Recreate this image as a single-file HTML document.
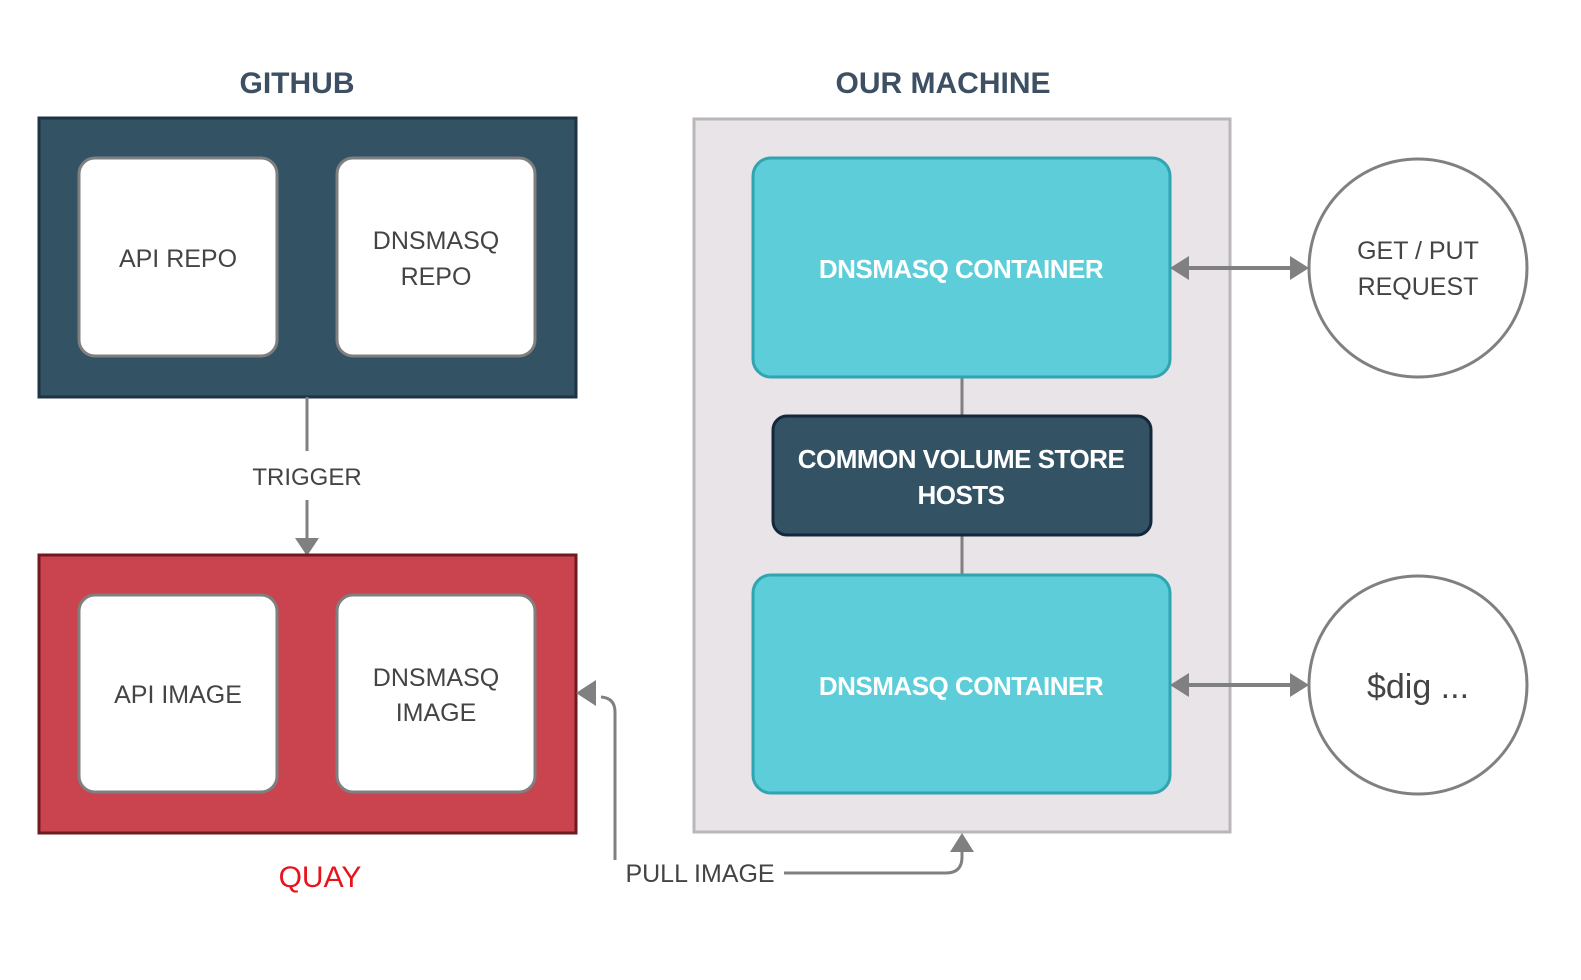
<!DOCTYPE html>
<html><head><meta charset="utf-8"><style>
html,body{margin:0;padding:0;background:#fff;width:1581px;height:980px;overflow:hidden;}
svg{display:block;position:absolute;left:0;top:0;}
text{font-family:"Liberation Sans","DejaVu Sans",sans-serif;}
</style></head><body>
<svg width="1581" height="980" viewBox="0 0 1581 980" xmlns="http://www.w3.org/2000/svg">
<rect width="1581" height="980" fill="#fff"/>
<text x="297" y="93" font-size="30" font-weight="bold" fill="#3d4f63" text-anchor="middle">GITHUB</text>
<text x="943" y="93" font-size="30" font-weight="bold" fill="#3d4f63" text-anchor="middle">OUR MACHINE</text>
<text x="320" y="887" font-size="30" fill="#e8141c" text-anchor="middle">QUAY</text>

<rect x="39" y="118" width="537" height="279" fill="#335264" stroke="#1e3344" stroke-width="3"/>
<rect x="79" y="158" width="198" height="198" rx="16" fill="#fff" stroke="#7f7f7f" stroke-width="3"/>
<rect x="337" y="158" width="198" height="198" rx="16" fill="#fff" stroke="#7f7f7f" stroke-width="3"/>
<g font-size="25" fill="#444" text-anchor="middle">
<text x="178" y="267">API REPO</text>
<text x="436" y="249">DNSMASQ</text>
<text x="436" y="285">REPO</text>
</g>

<line x1="307" y1="397" x2="307" y2="451" stroke="#808080" stroke-width="3"/>
<text x="307" y="485" font-size="24" fill="#444" text-anchor="middle">TRIGGER</text>
<line x1="307" y1="500" x2="307" y2="542" stroke="#808080" stroke-width="3"/>
<polygon points="295,538 319,538 307,556" fill="#808080"/>

<rect x="39" y="555" width="537" height="278" fill="#c9444e" stroke="#6f1a20" stroke-width="3"/>
<rect x="79" y="595" width="198" height="197" rx="16" fill="#fff" stroke="#7f7f7f" stroke-width="3"/>
<rect x="337" y="595" width="198" height="197" rx="16" fill="#fff" stroke="#7f7f7f" stroke-width="3"/>
<g font-size="25" fill="#444" text-anchor="middle">
<text x="178" y="703">API IMAGE</text>
<text x="436" y="686">DNSMASQ</text>
<text x="436" y="721">IMAGE</text>
</g>

<rect x="694" y="119" width="536" height="713" fill="#e8e4e8" stroke="#b9b7b9" stroke-width="3"/>
<line x1="962" y1="377" x2="962" y2="416" stroke="#808080" stroke-width="3"/>
<line x1="962" y1="535" x2="962" y2="575" stroke="#808080" stroke-width="3"/>
<rect x="753" y="158" width="417" height="219" rx="18" fill="#5ccdd9" stroke="#2ea5b1" stroke-width="3"/>
<rect x="773" y="416" width="378" height="119" rx="14" fill="#335264" stroke="#15273a" stroke-width="3"/>
<rect x="753" y="575" width="417" height="218" rx="18" fill="#5ccdd9" stroke="#2ea5b1" stroke-width="3"/>
<g font-size="26" font-weight="bold" fill="#fff" text-anchor="middle" letter-spacing="-0.5">
<text x="961" y="278">DNSMASQ CONTAINER</text>
<text x="961" y="468">COMMON VOLUME STORE</text>
<text x="961" y="504">HOSTS</text>
<text x="961" y="695">DNSMASQ CONTAINER</text>
</g>

<line x1="1185" y1="268" x2="1295" y2="268" stroke="#808080" stroke-width="4"/>
<polygon points="1170,268 1189,256 1189,280" fill="#808080"/>
<polygon points="1309,268 1290,256 1290,280" fill="#808080"/>
<line x1="1185" y1="685" x2="1295" y2="685" stroke="#808080" stroke-width="4"/>
<polygon points="1170,685 1189,673 1189,697" fill="#808080"/>
<polygon points="1309,685 1290,673 1290,697" fill="#808080"/>

<circle cx="1418" cy="268" r="109" fill="#fff" stroke="#808080" stroke-width="3"/>
<circle cx="1418" cy="685" r="109" fill="#fff" stroke="#808080" stroke-width="3"/>
<g fill="#444" text-anchor="middle">
<text x="1418" y="259" font-size="25">GET / PUT</text>
<text x="1418" y="295" font-size="25">REQUEST</text>
<text x="1418" y="698" font-size="34">$dig ...</text>
</g>

<path d="M784,873 L946,873 Q962,873 962,857 L962,848" fill="none" stroke="#808080" stroke-width="3"/>
<polygon points="950,852 974,852 962,833" fill="#808080"/>
<path d="M615,860 L615,712 Q615,698 601,697" fill="none" stroke="#808080" stroke-width="3"/>
<polygon points="576,693 596,680 596,706" fill="#808080"/>
<text x="700" y="882" font-size="25" fill="#444" text-anchor="middle">PULL IMAGE</text>
</svg>
</body></html>
